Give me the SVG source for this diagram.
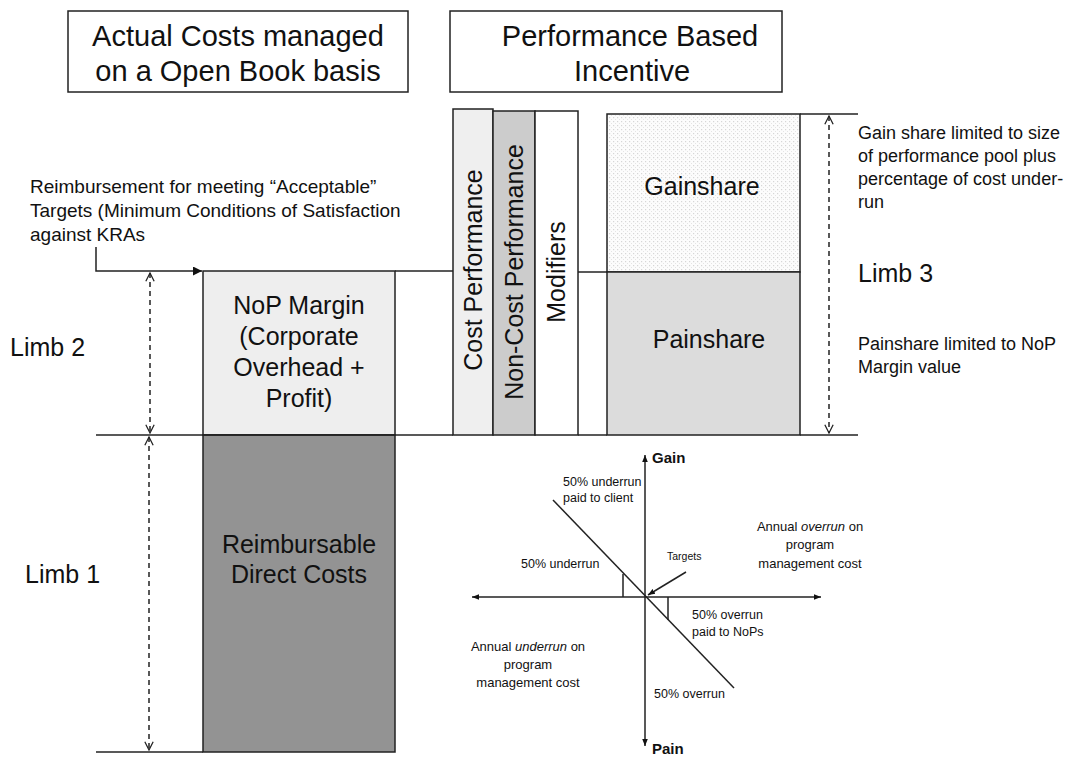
<svg xmlns="http://www.w3.org/2000/svg" width="1078" height="757" viewBox="0 0 1078 757">
<style>
text{font-family:"Liberation Sans",Arial,sans-serif;fill:#111}
.hdr{font-size:29px;text-anchor:middle}
.big{font-size:25px;text-anchor:middle}
.limb{font-size:25px}
.note{font-size:18px}
.note2{font-size:19px}
.sm{font-size:12.5px}
.smc{font-size:13px;text-anchor:middle}
.ln{stroke:#222;stroke-width:1.5;fill:none}
.dash{stroke:#222;stroke-width:1.5;fill:none;stroke-dasharray:5,4}
.box{stroke:#222;stroke-width:1.5}
</style>
<defs>
<marker id="open" viewBox="0 0 12 12" refX="11" refY="6" markerWidth="10" markerHeight="10" markerUnits="userSpaceOnUse" orient="auto-start-reverse">
<path d="M1,1 L11,6 L1,11" fill="none" stroke="#222" stroke-width="1.5"/>
</marker>
<marker id="tri" viewBox="0 0 10 10" refX="10" refY="5" markerWidth="9" markerHeight="9" markerUnits="userSpaceOnUse" orient="auto-start-reverse">
<path d="M0,0 L10,5 L0,10 Z" fill="#111"/>
</marker>
<marker id="tris" viewBox="0 0 10 10" refX="10" refY="5" markerWidth="7" markerHeight="7" markerUnits="userSpaceOnUse" orient="auto-start-reverse">
<path d="M0,1 L10,5 L0,9 Z" fill="#111"/>
</marker>
<pattern id="dots" width="4" height="4" patternUnits="userSpaceOnUse">
<rect width="4" height="4" fill="#fcfcfc"/>
<rect x="1" y="1" width="1.2" height="1.2" fill="#d6d6d6"/>
<rect x="3" y="3" width="1.2" height="1.2" fill="#e4e4e4"/>
</pattern>
</defs>

<rect width="1078" height="757" fill="#fff"/>

<g id="header-actual">
<rect class="box" x="68" y="11" width="340" height="81" fill="#fff"/>
<text class="hdr" x="238" y="46">Actual Costs managed</text>
<text class="hdr" x="238" y="81">on a Open Book basis</text>
</g>
<g id="header-performance">
<rect class="box" x="450" y="11" width="332" height="81" fill="#fff"/>
<text class="hdr" x="630" y="46">Performance Based</text>
<text class="hdr" x="632" y="81">Incentive</text>
</g>

<g id="reimbursement-note">
<text class="note2" x="30" y="193">Reimbursement for meeting “Acceptable”</text>
<text class="note2" x="30" y="217">Targets (Minimum Conditions of Satisfaction</text>
<text class="note2" x="30" y="241">against KRAs</text>
</g>

<g id="nop-margin">
<rect class="box" x="203" y="271" width="192" height="164" fill="#eeeeee"/>
<text class="big" x="299" y="314">NoP Margin</text>
<text class="big" x="299" y="345">(Corporate</text>
<text class="big" x="299" y="376">Overhead  +</text>
<text class="big" x="299" y="407">Profit)</text>
</g>
<g id="reimbursable">
<rect class="box" x="203" y="435" width="192" height="317" fill="#939393"/>
<text class="big" x="299" y="553">Reimbursable</text>
<text class="big" x="299" y="583">Direct Costs</text>
</g>

<g id="limb-labels">
<text class="limb" x="10" y="356">Limb 2</text>
<text class="limb" x="25" y="583">Limb 1</text>
<text class="limb" x="858" y="282">Limb 3</text>
</g>

<g id="cost-performance">
<rect class="box" x="453" y="109" width="40" height="326" fill="#efefef"/>
<text class="big" transform="translate(482,270) rotate(-90)">Cost Performance</text>
</g>
<g id="non-cost-performance">
<rect class="box" x="493" y="111" width="42" height="324" fill="#cccccc"/>
<text class="big" transform="translate(523,272) rotate(-90)">Non-Cost Performance</text>
</g>
<g id="modifiers">
<rect class="box" x="535" y="111" width="43" height="324" fill="#fff"/>
<text class="big" transform="translate(565,272) rotate(-90)">Modifiers</text>
</g>

<g id="gainshare">
<rect class="box" x="607" y="114" width="193" height="158" fill="url(#dots)"/>
<text class="big" x="702" y="195">Gainshare</text>
</g>
<g id="painshare">
<rect class="box" x="607" y="272" width="193" height="163" fill="#dcdcdc"/>
<text class="big" x="709" y="348">Painshare</text>
</g>

<g id="limb3-notes">
<text class="note" x="858" y="139">Gain share limited to size</text>
<text class="note" x="858" y="162">of performance pool plus</text>
<text class="note" x="858" y="185">percentage of cost under-</text>
<text class="note" x="858" y="208">run</text>
<text class="note" x="858" y="350">Painshare limited to NoP</text>
<text class="note" x="858" y="373">Margin value</text>
</g>

<g id="connectors">
<polyline class="ln" points="96,247 96,271 202,271" marker-end="url(#tri)"/>
<line class="ln" x1="395" y1="271" x2="453" y2="271"/>
<line class="ln" x1="96" y1="435" x2="453" y2="435"/>
<line class="ln" x1="96" y1="752" x2="203" y2="752"/>
<line class="ln" x1="578" y1="272" x2="607" y2="272"/>
<line class="ln" x1="578" y1="435" x2="607" y2="435"/>
<line class="ln" x1="800" y1="114" x2="858" y2="114"/>
<line class="ln" x1="800" y1="435" x2="858" y2="435"/>
<line class="dash" x1="150" y1="273" x2="150" y2="433" marker-start="url(#open)" marker-end="url(#open)"/>
<line class="dash" x1="149" y1="437" x2="149" y2="750" marker-start="url(#open)" marker-end="url(#open)"/>
<line class="dash" x1="829" y1="116" x2="829" y2="433" marker-start="url(#open)" marker-end="url(#open)"/>
</g>

<g id="gain-pain-chart">
<line class="ln" x1="645" y1="746" x2="645" y2="455" stroke-width="1.3" marker-start="url(#tris)" marker-end="url(#tris)"/>
<line class="ln" x1="472" y1="597" x2="821" y2="597" stroke-width="1.3" marker-start="url(#tris)" marker-end="url(#tris)"/>
<line class="ln" x1="553" y1="500" x2="734" y2="688" stroke-width="1.3"/>
<line class="ln" x1="623" y1="597" x2="623" y2="574" stroke-width="1.3"/>
<line class="ln" x1="668" y1="597" x2="668" y2="620" stroke-width="1.3"/>
<line class="ln" x1="686" y1="572" x2="648" y2="595" stroke-width="1.3" marker-end="url(#tris)"/>
<text x="652" y="463" style="font-size:15px;font-weight:bold">Gain</text>
<text x="652" y="754" style="font-size:15px;font-weight:bold">Pain</text>
<text x="667" y="560" style="font-size:10.5px">Targets</text>
<text class="sm" x="563" y="486">50% underrun</text>
<text class="sm" x="563" y="502">paid to client</text>
<text class="sm" x="521" y="568">50% underrun</text>
<text class="smc" x="810" y="531">Annual <tspan font-style="italic">overrun</tspan> on</text>
<text class="smc" x="810" y="549">program</text>
<text class="smc" x="810" y="568">management cost</text>
<text class="sm" x="692" y="619">50% overrun</text>
<text class="sm" x="692" y="636">paid to NoPs</text>
<text class="smc" x="528" y="651">Annual <tspan font-style="italic">underrun</tspan> on</text>
<text class="smc" x="528" y="669">program</text>
<text class="smc" x="528" y="687">management cost</text>
<text class="sm" x="654" y="698">50% overrun</text>
</g>
</svg>
